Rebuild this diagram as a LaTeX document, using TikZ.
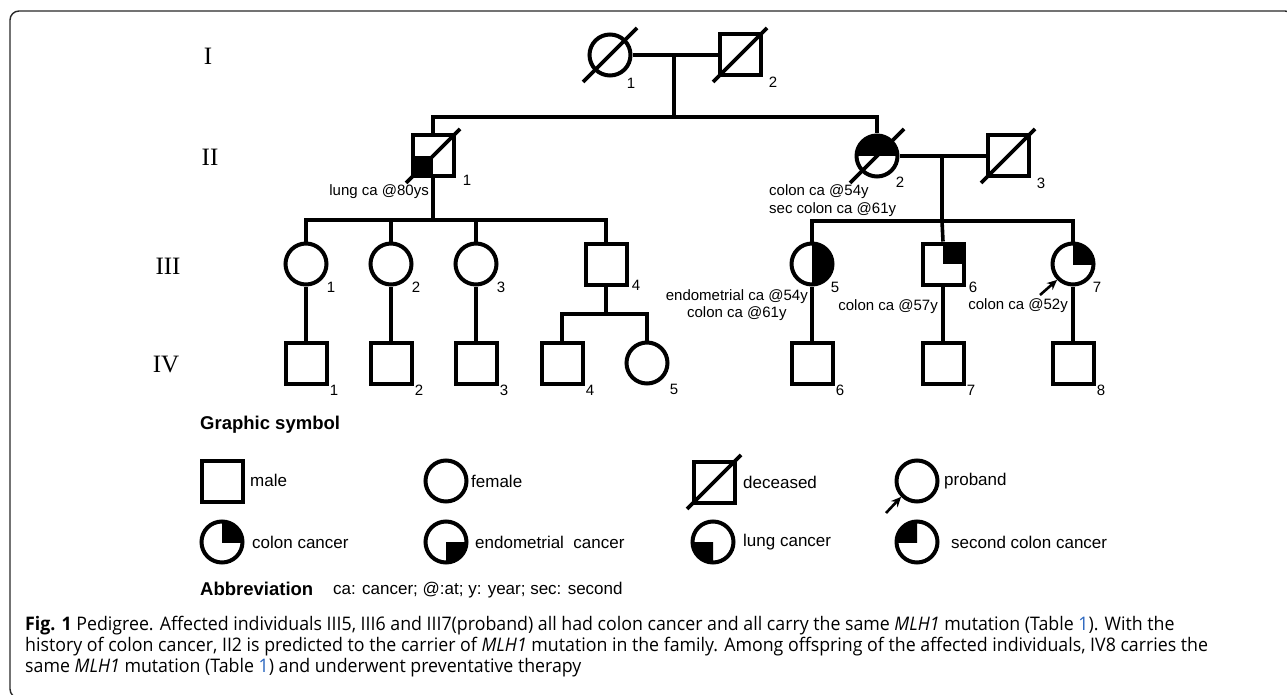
\documentclass[tikz,border=0pt]{standalone}
\usepackage{fontspec}
\setmainfont{Liberation Sans}
\newfontfamily\romanfont{Liberation Serif}
\newfontfamily\capfont{Open Sans}[FakeStretch=0.95]
\usetikzlibrary{arrows.meta}
\definecolor{tblue}{RGB}{40,100,190}
\definecolor{framegray}{RGB}{40,40,40}
\tikzset{
  male/.style={draw, line width=4pt, rectangle, minimum width=41pt, minimum height=41pt, inner sep=0pt},
  female/.style={draw, line width=4pt, circle, minimum size=41pt, inner sep=0pt},
  rel/.style={line width=3.6pt},
  slash/.style={line width=3.8pt},
  num/.style={font=\fontsize{15}{17}\selectfont, inner sep=0pt},
  ann/.style={font=\fontsize{15}{17.5}\selectfont, inner sep=0pt},
  gen/.style={font=\romanfont\fontsize{25}{27}\selectfont, inner sep=0pt},
  leg/.style={font=\fontsize{17}{19}\selectfont, inner sep=0pt, anchor=west},
  legh/.style={font=\bfseries\fontsize{18.5}{20}\selectfont, inner sep=0pt, anchor=west},
  captext/.style={font=\capfont\fontsize{18.7}{20}\selectfont, inner sep=0pt, anchor=base west},
  proarrow/.style={line width=2.6pt, -{Stealth[length=10pt,width=9pt]}},
}
\begin{document}
\begin{tikzpicture}[x=1pt,y=-1pt]
\useasboundingbox (0,0) rectangle (1287,695);
\begin{scope}
  \clip (0,0) rectangle (1287,695);
  \draw[line width=1.4pt, framegray, rounded corners=9pt] (10,11) rectangle (1294,698);
\end{scope}

% generation labels
\node[gen] (gI) at (208,56) {I};
\node[gen] (gII) at (210,157) {II};
\node[gen] (gIII) at (168,266) {III};
\node[gen] (gIV) at (166,365) {IV};

% individuals
\node[female] (I1) at (610,55) {};
\node[male] (I2) at (740,55) {};
\node[male] (II1) at (433,156) {};
\node[female] (II2) at (877,156) {};
\node[male] (II3) at (1008,156) {};
\node[female] (III1) at (306,264) {};
\node[female] (III2) at (391,264) {};
\node[female] (III3) at (476,264) {};
\node[male] (III4) at (606,264) {};
\node[female] (III5) at (812,264) {};
\node[male] (III6) at (943,264) {};
\node[female] (III7) at (1073,264) {};
\node[male] (IV1) at (306,363) {};
\node[male] (IV2) at (391,363) {};
\node[male] (IV3) at (476,363) {};
\node[male] (IV4) at (562,363) {};
\node[female] (IV5) at (647,363) {};
\node[male] (IV6) at (812,363) {};
\node[male] (IV7) at (943,363) {};
\node[male] (IV8) at (1073,363) {};

% fills
\fill (II1.center) rectangle (II1.south west);
\begin{scope}\clip ([shift={(-30,0)}]II2.center) rectangle ([shift={(30,-30)}]II2.center);
  \fill (II2.center) circle[radius=21];\end{scope}
\begin{scope}\clip ([shift={(0,-30)}]III5.center) rectangle ([shift={(30,30)}]III5.center);
  \fill (III5.center) circle[radius=21];\end{scope}
\fill (III6.center) rectangle (III6.north east);
\begin{scope}\clip (III7.center) rectangle ([shift={(30,-30)}]III7.center);
  \fill (III7.center) circle[radius=21];\end{scope}

% deceased slashes
\foreach \n in {I1,I2,II1,II2,II3}
  \draw[slash] ([shift={(-27,27)}]\n.center) -- ([shift={(27,-27)}]\n.center);

% connectors
\coordinate (m1) at (674,55);
\coordinate (s1) at (674,117);
\coordinate (s1l) at (433,117);
\coordinate (s1r) at (877,117);
\draw[rel] (I1.east) -- (I2.west);
\draw[rel] (m1) -- (s1);
\draw[rel] (II1.north) -- (s1l) -- (s1r) -- (II2.north);

\coordinate (m2) at (942,155);
\coordinate (s2) at (942,221);
\coordinate (s2l) at (812,221);
\coordinate (s2r) at (1073,221);
\draw[rel] (II2.east) -- (II3.west);
\draw[rel] (m2) -- (s2);
\draw[rel] (III5.north) -- (s2l) -- (s2r) -- (III7.north);
\draw[rel] (s2) -- (III6.north);

\coordinate (d1) at (433,220);
\coordinate (s3l) at (306,220);
\coordinate (s3r) at (606,220);
\draw[rel] (II1.south) -- (d1);
\draw[rel] (III1.north) -- (s3l) -- (s3r) -- (III4.north);
\draw[rel] (III2.north) -- (III2.north |- s3l);
\draw[rel] (III3.north) -- (III3.north |- s3l);

\draw[rel] (III1.south) -- (IV1.north);
\draw[rel] (III2.south) -- (IV2.north);
\draw[rel] (III3.south) -- (IV3.north);
\coordinate (d4) at (606,314);
\coordinate (s4l) at (562,314);
\coordinate (s4r) at (647,314);
\draw[rel] (III4.south) -- (d4);
\draw[rel] (IV4.north) -- (s4l) -- (s4r) -- (IV5.north);
\draw[rel] (III5.south) -- (IV6.north);
\draw[rel] (III6.south) -- (IV7.north);
\draw[rel] (III7.south) -- (IV8.north);

% proband arrow
\coordinate (pa) at (1040,295);
\draw[proarrow] (pa) -- (III7.225);

% number labels
\node[num] (nI1) at (631,83) {1};
\node[num] (nI2) at (773,82) {2};
\node[num] (nII1) at (467,180) {1};
\node[num] (nII2) at (900,182) {2};
\node[num] (nII3) at (1041,183) {3};
\node[num] (nIII1) at (331,287) {1};
\node[num] (nIII2) at (416,287) {2};
\node[num] (nIII3) at (501,287) {3};
\node[num] (nIII4) at (636,285) {4};
\node[num] (nIII5) at (835,287) {5};
\node[num] (nIII6) at (973,287) {6};
\node[num] (nIII7) at (1097,287) {7};
\node[num] (nIV1) at (334,390) {1};
\node[num] (nIV2) at (419,390) {2};
\node[num] (nIV3) at (504,390) {3};
\node[num] (nIV4) at (590,390) {4};
\node[num] (nIV5) at (674,389) {5};
\node[num] (nIV6) at (840,390) {6};
\node[num] (nIV7) at (971,390) {7};
\node[num] (nIV8) at (1101,390) {8};

% annotations
\node[ann, anchor=east] (aII1) at (429,192) {lung ca @80ys};
\node[ann, anchor=west, align=left, font=\fontsize{15}{18}\selectfont] (aII2) at (769,201) {colon ca @54y\\sec colon ca @61y};
\node[ann, anchor=east, align=center] (aIII5) at (808,305) {endometrial ca @54y\\colon ca @61y};
\node[ann, anchor=east] (aIII6) at (938,307) {colon ca @57y};
\node[ann, anchor=east] (aIII7) at (1068,306) {colon ca @52y};

% legend
\node[legh] (lgh) at (200,425) {Graphic symbol};
\node[male] (Lm) at (222,481) {};
\node[leg] (Lmt) at (250,480) {male};
\node[female] (Lf) at (446,481) {};
\node[leg] (Lft) at (471,481) {female};
\node[male] (Ld) at (714,482) {};
\draw[slash] ([shift={(-27,27)}]Ld.center) -- ([shift={(27,-27)}]Ld.center);
\node[leg] (Ldt) at (743,482) {deceased};
\node[female] (Lp) at (917,481) {};
\coordinate (lpa) at (886,513);
\draw[proarrow] (lpa) -- (Lp.225);
\node[leg] (Lpt) at (944,481) {proband};

\node[female] (Lc) at (222,542) {};
\begin{scope}\clip (Lc.center) rectangle ([shift={(30,-30)}]Lc.center);
  \fill (Lc.center) circle[radius=21];\end{scope}
\node[leg] (Lct) at (252,542) {colon cancer};
\node[female] (Le) at (446,542) {};
\begin{scope}\clip (Le.center) rectangle ([shift={(30,30)}]Le.center);
  \fill (Le.center) circle[radius=21];\end{scope}
\node[leg] (Let) at (475,542) {endometrial\ \ cancer};
\node[female] (Ll) at (713,542) {};
\begin{scope}\clip (Ll.center) rectangle ([shift={(-30,30)}]Ll.center);
  \fill (Ll.center) circle[radius=21];\end{scope}
\node[leg] (Llt) at (743,542) {lung cancer};
\node[female] (Ls) at (917,542) {};
\begin{scope}\clip (Ls.center) rectangle ([shift={(-30,-30)}]Ls.center);
  \fill (Ls.center) circle[radius=21];\end{scope}
\node[leg] (Lst) at (951,542) {second colon cancer};

\node[legh] (abh) at (200,589) {Abbreviation};
\node[leg] (abt) at (333,590) {ca: cancer; @:at; y: year; sec: second};

% caption
\node[captext] (c1) at (25,630) {{\bfseries Fig. 1} Pedigree. Affected individuals III5, III6 and III7(proband) all had colon cancer and all carry the same \textit{MLH1} mutation (Table {\color{tblue}1}). With the};
\node[captext] (c2) at (25,651) {history of colon cancer, II2 is predicted to the carrier of \textit{MLH1} mutation in the family. Among offspring of the affected individuals, IV8 carries the};
\node[captext] (c3) at (25,672) {same \textit{MLH1} mutation (Table {\color{tblue}1}) and underwent preventative therapy};
\end{tikzpicture}
\end{document}
